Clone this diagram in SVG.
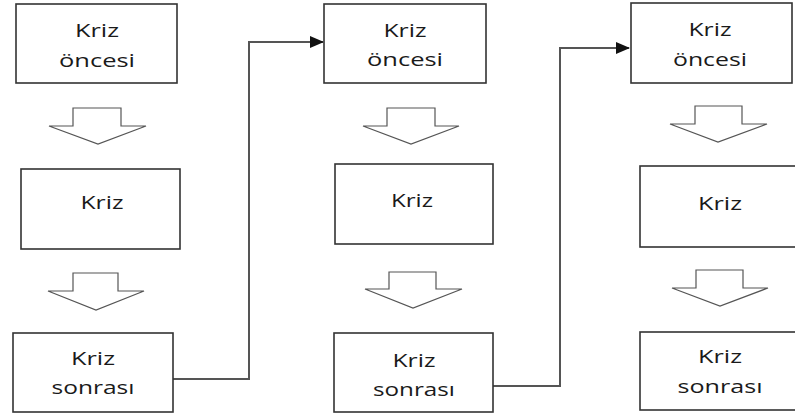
<svg xmlns="http://www.w3.org/2000/svg" width="795" height="416" viewBox="0 0 795 416">
<style>
.box{fill:#fff;stroke:#333;stroke-width:1.6}
.lbl{font-family:"Open Sans","Noto Sans","DejaVu Sans",sans-serif;font-size:18px;fill:#1a1a1a;text-anchor:middle}
.blk{fill:#fff;stroke:#555;stroke-width:1.2;stroke-linejoin:miter}
.conn{fill:none;stroke:#555;stroke-width:2}
</style>
<defs>
<marker id="ah" markerWidth="14" markerHeight="12" refX="13" refY="6" orient="auto" markerUnits="userSpaceOnUse">
<path d="M0,0 L14,6 L0,12 Z" fill="#111"/>
</marker>
</defs>
<rect width="795" height="416" fill="#fff"/>
<g id="connectors">
<polyline class="conn" points="173,379 249,379 249,42 323,42" marker-end="url(#ah)"/>
<polyline class="conn" points="493,386 560,386 560,48 629,48" marker-end="url(#ah)"/>
</g>
<g id="arrows">
<polygon class="blk" points="73,108 121,108 121,126 146,126 98,144 49,126 73,126"/>
<polygon class="blk" points="73,273 118,273 118,291 144,291 96,310 48,291 73,291"/>
<polygon class="blk" points="387,108 435,108 435,126 459,126 411,144 363,126 387,126"/>
<polygon class="blk" points="389,272 436,272 436,289 462,289 413,308 365,289 389,289"/>
<polygon class="blk" points="695,106 742,106 742,124 767,124 718,142 670,124 695,124"/>
<polygon class="blk" points="696,270 743,270 743,288 768,288 720,306 672,288 696,288"/>
</g>
<g id="n1"><rect class="box" x="16" y="4" width="161" height="79"/><text class="lbl" x="97" y="37" textLength="44" lengthAdjust="spacingAndGlyphs">Kriz</text><text class="lbl" x="97" y="67" textLength="76" lengthAdjust="spacingAndGlyphs">öncesi</text></g>
<g id="n2"><rect class="box" x="21" y="169" width="159" height="80"/><text class="lbl" x="102" y="209" textLength="43" lengthAdjust="spacingAndGlyphs">Kriz</text></g>
<g id="n3"><rect class="box" x="13" y="333" width="160" height="79"/><text class="lbl" x="93" y="365" textLength="44" lengthAdjust="spacingAndGlyphs">Kriz</text><text class="lbl" x="93" y="394" textLength="83" lengthAdjust="spacingAndGlyphs">sonrası</text></g>
<g id="n4"><rect class="box" x="324" y="4" width="162" height="79"/><text class="lbl" x="405" y="37" textLength="43" lengthAdjust="spacingAndGlyphs">Kriz</text><text class="lbl" x="405" y="66" textLength="76" lengthAdjust="spacingAndGlyphs">öncesi</text></g>
<g id="n5"><rect class="box" x="335" y="164" width="158" height="80"/><text class="lbl" x="412" y="207" textLength="42" lengthAdjust="spacingAndGlyphs">Kriz</text></g>
<g id="n6"><rect class="box" x="334" y="333" width="159" height="79"/><text class="lbl" x="414" y="367" textLength="43" lengthAdjust="spacingAndGlyphs">Kriz</text><text class="lbl" x="414" y="396" textLength="82" lengthAdjust="spacingAndGlyphs">sonrası</text></g>
<g id="n7"><rect class="box" x="631" y="3" width="161" height="80"/><text class="lbl" x="710" y="36" textLength="43" lengthAdjust="spacingAndGlyphs">Kriz</text><text class="lbl" x="710" y="66" textLength="74" lengthAdjust="spacingAndGlyphs">öncesi</text></g>
<g id="n8"><rect class="box" x="640" y="166" width="162" height="81"/><text class="lbl" x="720" y="210" textLength="44" lengthAdjust="spacingAndGlyphs">Kriz</text></g>
<g id="n9"><rect class="box" x="640" y="332" width="162" height="78"/><text class="lbl" x="720" y="363" textLength="44" lengthAdjust="spacingAndGlyphs">Kriz</text><text class="lbl" x="720" y="393" textLength="85" lengthAdjust="spacingAndGlyphs">sonrası</text></g>
</svg>
